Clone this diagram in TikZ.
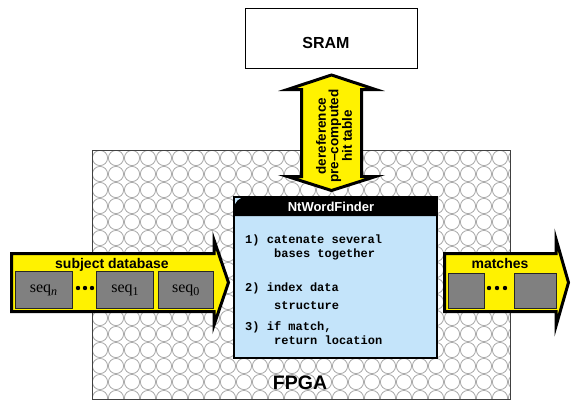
\documentclass[tikz,border=0pt]{standalone}
\usepackage{fontspec}
\setmainfont{Liberation Sans}
\newfontfamily\serifx{Liberation Serif}
\newfontfamily\monox{Liberation Mono}
\definecolor{nwblue}{RGB}{196,228,250}
\definecolor{patgray}{RGB}{170,170,170}
\begin{document}
\begin{tikzpicture}[x=1pt,y=-1pt,
  fat/.style={draw=black,line width=3pt,fill=yellow,line join=miter,miter limit=12},
  seqbox/.style={draw=black!85,line width=0.8pt,fill=black!50,inner sep=0pt,
    font=\serifx\fontsize{16}{16}\selectfont},
  lbl/.style={font=\bfseries\fontsize{14}{14}\selectfont,anchor=base,inner sep=0pt},
  code/.style={font=\monox\bfseries\fontsize{12}{12}\selectfont,anchor=base west,inner sep=0pt},
  bdot/.style={circle,fill=black,inner sep=0pt,minimum size=4.4pt}]
\useasboundingbox (0,0) rectangle (571,400);
% FPGA
\begin{scope}
  \clip (92,150) rectangle (510,399);
  \foreach \i in {0,...,26}
    \foreach \j in {0,...,15}
      \draw[patgray,line width=0.8pt] (100+16*\i,158+16*\j) circle[radius=7.6];
\end{scope}
\node[draw=black!75,line width=1pt,minimum width=418pt,minimum height=249pt,inner sep=0pt] (fpga) at (301,274.5) {};
\node[font=\bfseries\fontsize{19.5}{19.5}\selectfont,anchor=base,inner sep=0pt] (fpgalabel) at (300,389) {FPGA};
% SRAM
\node[draw=black,line width=0.8pt,fill=white,minimum width=172pt,minimum height=60pt,inner sep=0pt] (sram) at (331,38) {};
\node[font=\bfseries\fontsize{16}{16}\selectfont,anchor=base,inner sep=0pt] (sramlabel) at (326,48) {SRAM};
% double arrow
\draw[fat] (331.5,75) -- (375.5,89.5) -- (361.5,89.5) -- (361.5,176.5) -- (375.5,176.5)
  -- (331.5,190.5) -- (287.5,176.5) -- (301.5,176.5) -- (301.5,89.5) -- (287.5,89.5) -- cycle;
\node[rotate=90,align=center,inner sep=0pt,font=\bfseries\fontsize{13.5}{12.5}\selectfont] (hit) at (334,136)
  {dereference\\pre–computed\\hit table};
% NtWordFinder
\node[draw=black,line width=1.2pt,fill=nwblue,minimum width=203pt,minimum height=161pt,inner sep=0pt] (finder) at (335.5,277.5) {};
\fill[black] (234,216) -- (234,209) arc[start angle=180,end angle=270,radius=12] -- (437,197) -- (437,216) -- cycle;
\node[text=white,font=\bfseries\fontsize{13}{13}\selectfont,inner sep=0pt] (title) at (331,207) {NtWordFinder};
\node[code] (l1) at (245,243) {1) catenate several};
\node[code] (l2) at (274,257) {bases together};
\node[code] (l3) at (245,291) {2) index data};
\node[code] (l4) at (274,309) {structure};
\node[code] (l5) at (245,330) {3) if match,};
\node[code] (l6) at (274,344) {return location};
% subject database arrow
\draw[fat] (11.5,253.5) -- (214,253.5) -- (214,240) -- (228.5,282.5) -- (214,325) -- (214,311.5) -- (11.5,311.5) -- cycle;
\node[lbl] (subj) at (112,268) {subject database};
\node[seqbox,minimum width=57pt,minimum height=36.5pt] (sn) at (43.5,290) {seq\raisebox{-3.5pt}{\fontsize{12}{12}\selectfont\itshape n}};
\node[seqbox,minimum width=56.5pt,minimum height=36.5pt] (s1) at (125,290) {seq\raisebox{-3.5pt}{\fontsize{12}{12}\selectfont 1}};
\node[seqbox,minimum width=55pt,minimum height=36.5pt] (s0) at (185.8,290) {seq\raisebox{-3.5pt}{\fontsize{12}{12}\selectfont 0}};
\node[bdot] (d1) at (78,288) {};
\node[bdot] (d2) at (85,288) {};
\node[bdot] (d3) at (92,288) {};
% matches arrow
\draw[fat] (444.5,253.5) -- (556,253.5) -- (556,239) -- (568.5,282.5) -- (556,326) -- (556,311.5) -- (444.5,311.5) -- cycle;
\node[lbl] (match) at (500,268) {matches};
\node[seqbox,minimum width=36pt,minimum height=35pt] (m1) at (466,290.5) {};
\node[seqbox,minimum width=42pt,minimum height=35pt] (m2) at (535,290.5) {};
\node[bdot] (e1) at (489,288) {};
\node[bdot] (e2) at (497,288) {};
\node[bdot] (e3) at (505,288) {};
\end{tikzpicture}
\end{document}
